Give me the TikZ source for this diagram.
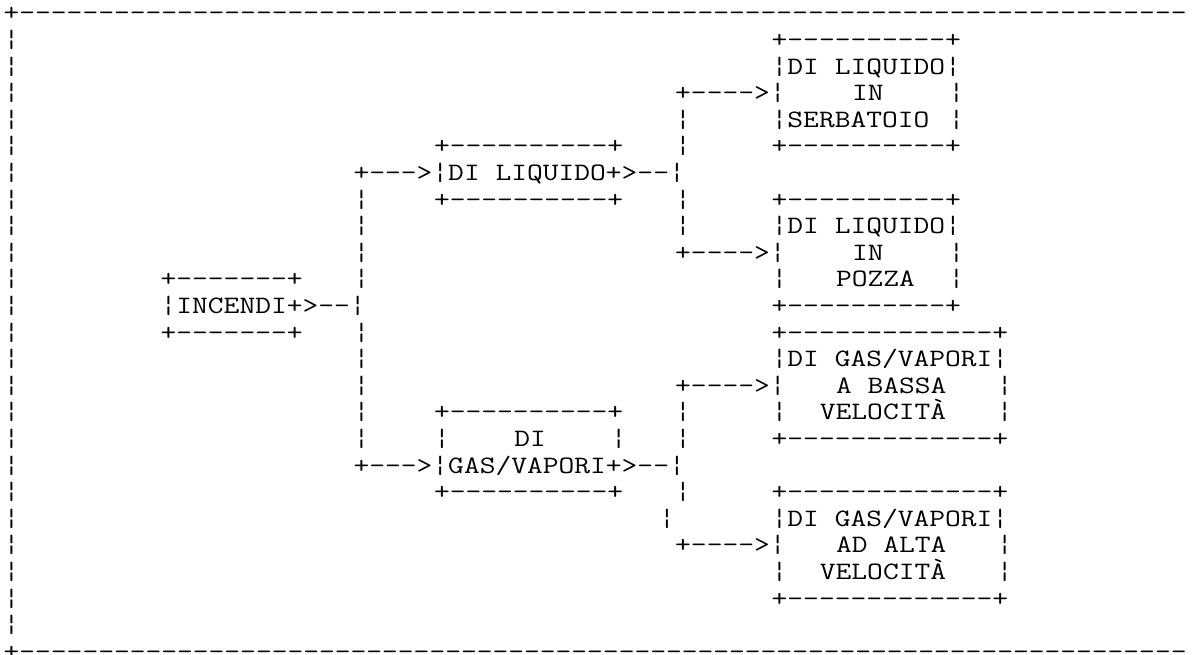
\documentclass[tikz,border=0pt]{standalone}
\usepackage{graphicx}
\newcount\ascnt
\newcommand\ahy{-\kern0pt }
\newcommand\ahys[1]{\ascnt=#1\relax\loop\ahy\advance\ascnt -1\relax\ifnum\ascnt>0 \repeat}
\tikzset{asc/.style={anchor=base west, inner sep=0pt, outer sep=0pt, text=black,
  font=\fontsize{25bp}{30bp}\selectfont\ttfamily}}
\newcommand\seg[4]{\node[asc] (#1) at (#2-0.01,#3+0.782) {\scalebox{1.225}[1]{#4}};}
\begin{document}
\begin{tikzpicture}[x=16.08bp,y=-26.6bp]
\useasboundingbox (0bp,0bp) rectangle (1194bp,-655bp);
\fill[white] (0bp,0bp) rectangle (1194bp,-655bp);
\clip (0bp,0bp) rectangle (1194bp,-655bp);
% outer frame
\seg{top}{0.2376}{0}{+\ahys{74}}
\foreach \n in {1,...,23}{\seg{f\n}{0.2376}{\n}{¦}}
\seg{bot}{0.2376}{24}{+\ahys{74}}
% row 1-5
\seg{a1}{48}{1}{+\ahys{10}+}
\seg{a2}{48}{2}{¦DI LIQUIDO¦}
\seg{a3}{42}{3}{+\ahys{4}>¦}
\seg{a3t}{53}{3}{IN}
\seg{a3r}{59}{3}{¦}
\seg{a4v}{42}{4}{¦}
\seg{a4}{48}{4}{¦SERBATOIO}
\seg{a4r}{59}{4}{¦}
\seg{b5}{27}{5}{+\ahys{10}+}
\seg{a5v}{42}{5}{¦}
\seg{a5}{48}{5}{+\ahys{10}+}
% row 6-11
\seg{b6}{22}{6}{+\ahys{3}>¦DI LIQUIDO+>\ahys{2}¦}
\seg{v7}{22}{7}{¦}
\seg{b7}{27}{7}{+\ahys{10}+}
\seg{w7}{42}{7}{¦}
\seg{c7}{48}{7}{+\ahys{10}+}
\seg{v8}{22}{8}{¦}
\seg{w8}{42}{8}{¦}
\seg{c8}{48}{8}{¦DI LIQUIDO¦}
\seg{v9}{22}{9}{¦}
\seg{c9}{42}{9}{+\ahys{4}>¦}
\seg{c9t}{53}{9}{IN}
\seg{c9r}{59}{9}{¦}
\seg{i10}{10}{10}{+\ahys{7}+}
\seg{v10}{22}{10}{¦}
\seg{c10}{48}{10}{¦}
\seg{c10t}{52}{10}{POZZA}
\seg{c10r}{59}{10}{¦}
\seg{i11}{10}{11}{¦INCENDI+>\ahys{2}¦}
\seg{c11}{48}{11}{+\ahys{10}+}
% row 12-17
\seg{i12}{10}{12}{+\ahys{7}+}
\seg{v12}{22}{12}{¦}
\seg{d12}{48}{12}{+\ahys{13}+}
\seg{v13}{22}{13}{¦}
\seg{d13}{48}{13}{¦DI GAS/VAPORI¦}
\seg{v14}{22}{14}{¦}
\seg{d14}{42}{14}{+\ahys{4}>¦}
\seg{d14t}{52}{14}{A BASSA}
\seg{d14r}{62}{14}{¦}
\seg{v15}{22}{15}{¦}
\seg{g15}{27}{15}{+\ahys{10}+}
\seg{w15}{42}{15}{¦}
\seg{d15}{48}{15}{¦}
\seg{d15t}{51}{15}{VELOCITÀ}
\seg{d15r}{62}{15}{¦}
\seg{v16}{22}{16}{¦}
\seg{g16}{27}{16}{¦}
\seg{g16t}{32}{16}{DI}
\seg{g16r}{38}{16}{¦}
\seg{w16}{42}{16}{¦}
\seg{d16}{48}{16}{+\ahys{13}+}
\seg{g17}{22}{17}{+\ahys{3}>¦GAS/VAPORI+>\ahys{2}¦}
% row 18-22
\seg{g18}{27}{18}{+\ahys{10}+}
\seg{w18}{42}{18}{¦}
\seg{e18}{48}{18}{+\ahys{13}+}
\seg{w19}{41}{19}{¦}
\seg{e19}{48}{19}{¦DI GAS/VAPORI¦}
\seg{e20}{42}{20}{+\ahys{4}>¦}
\seg{e20t}{52}{20}{AD ALTA}
\seg{e20r}{62}{20}{¦}
\seg{e21}{48}{21}{¦}
\seg{e21t}{51}{21}{VELOCITÀ}
\seg{e21r}{62}{21}{¦}
\seg{e22}{48}{22}{+\ahys{13}+}
\end{tikzpicture}
\end{document}
